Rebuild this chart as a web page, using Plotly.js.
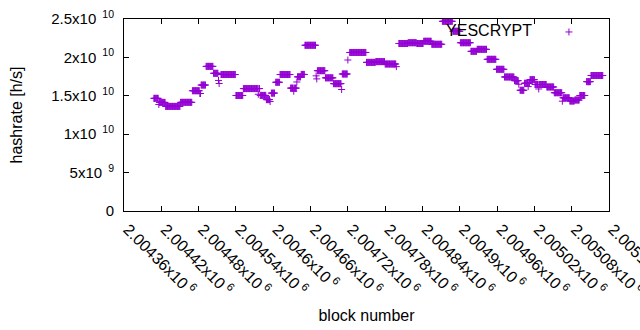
<!DOCTYPE html>
<html><head><meta charset="utf-8">
<script src="https://cdn.plot.ly/plotly-3.0.1.min.js"></script>
<style>html,body{margin:0;padding:0;background:#fff}</style>
</head><body><div id="chart" style="width:640px;height:330px"></div>
<script>
// Runs of consecutive blocks sharing one hashrate value, in units of 1e10 h/s
const runStart = [2004408,2004416,2004417,2004427,2004451,2004470,2004482,2004484,2004492,2004504,2004512,2004513,2004516,2004540,2004552,2004576,2004577,2004579,2004589,2004595,2004597,2004604,2004611,2004628,2004633,2004634,2004638,2004639,2004645,2004651,2004669,2004670,2004671,2004684,2004697,2004710,2004711,2004720,2004723,2004750,2004765,2004780,2004798,2004802,2004817,2004831,2004842,2004855,2004872,2004889,2004901,2004918,2004928,2004944,2004959,2004972,2004988,2004995,2004997,2005004,2005010,2005011,2005013,2005021,2005027,2005028,2005040,2005052,2005065,2005066,2005077,2005085,2005093,2005104,2005111];
const runEnd = [2004415,2004416,2004426,2004450,2004469,2004481,2004483,2004491,2004503,2004511,2004512,2004513,2004539,2004551,2004575,2004576,2004578,2004588,2004594,2004595,2004602,2004610,2004627,2004632,2004633,2004637,2004638,2004644,2004650,2004668,2004669,2004670,2004683,2004696,2004709,2004710,2004719,2004720,2004749,2004764,2004779,2004797,2004798,2004816,2004830,2004841,2004854,2004871,2004888,2004900,2004917,2004927,2004943,2004958,2004971,2004987,2004994,2004995,2005003,2005009,2005010,2005012,2005020,2005026,2005027,2005039,2005051,2005064,2005065,2005076,2005084,2005092,2005101,2005110,2005130];
const runHashrate = [1.467,1.387,1.414,1.362,1.415,1.566,1.53,1.64,1.883,1.793,1.70,1.66,1.777,1.504,1.594,1.52,1.594,1.505,1.45,1.425,1.535,1.676,1.777,1.60,1.56,1.60,1.68,1.747,1.778,2.158,1.76,1.72,1.827,1.734,1.658,1.582,1.784,1.966,2.064,1.935,1.945,1.914,1.88,2.181,2.191,2.181,2.21,2.171,2.47,2.34,2.191,2.079,2.105,1.975,1.845,1.745,1.697,1.65,1.572,1.663,1.62,1.663,1.71,1.647,1.589,1.647,1.615,1.54,1.43,1.474,1.432,1.445,1.504,1.684,1.764];
const hashUnit = 1e10;

const xTickVals = [2004360,2004420,2004480,2004540,2004600,2004660,2004720,2004780,2004840,2004900,2004960,2005020,2005080,2005140];
const xTickText = ['2.00436','2.00442','2.00448','2.00454','2.0046','2.00466','2.00472','2.00478','2.00484','2.0049','2.00496','2.00502','2.00508','2.00514'].map(s => s + 'x10\u2009<sup>6</sup>');
const yTickVals = [0,5e9,1e10,1.5e10,2e10,2.5e10];
const yTickText = ['0','5x10\u2009\u2009<sup>9</sup>','1x10\u2009\u2009<sup>10</sup>','1.5x10\u2009\u2009<sup>10</sup>','2x10\u2009\u2009<sup>10</sup>','2.5x10\u2009\u2009<sup>10</sup>'];

const xs = [], ys = [];
for (let i = 0; i < runStart.length; i++) {
  for (let b = runStart[i]; b <= runEnd[i]; b++) { xs.push(b); ys.push(runHashrate[i] * hashUnit); }
}

const FONT = 'Liberation Sans, Arial, sans-serif';
const trace = {
  type: 'scatter', mode: 'markers', x: xs, y: ys, name: ' ',
  marker: {symbol: 'cross-thin', size: 5, color: '#9400D3', line: {color: '#9400D3', width: 1}}
};
const axisCommon = {
  showline: true, linecolor: '#000', linewidth: 1, mirror: 'ticks',
  ticks: 'inside', ticklen: 5, tickcolor: '#000', tickwidth: 1,
  showgrid: false, zeroline: false, tickmode: 'array', ticklabeloverflow: 'allow'
};
const layout = {
  width: 640, height: 330,
  margin: {l: 124.4, r: 30.7, t: 19, b: 119},
  paper_bgcolor: '#fff', plot_bgcolor: '#fff',
  font: {family: FONT, size: 15, color: '#000'},
  xaxis: Object.assign({}, axisCommon, {
    range: [2004360, 2005140], tickvals: xTickVals, ticktext: xTickText, tickangle: 45,
    ticklabelstandoff: 2, ticklabelshift: 4,
    tickfont: {family: FONT, size: 16, color: '#000'},
    title: {text: 'block number', font: {family: FONT, size: 16, color: '#000'}, standoff: 12}
  }),
  yaxis: Object.assign({}, axisCommon, {
    range: [0, 2.5e10], tickvals: yTickVals, ticktext: yTickText, ticklabelstandoff: 6,
    tickfont: {family: FONT, size: 15, color: '#000'},
    title: {text: 'hashrate [h/s]', font: {family: FONT, size: 16, color: '#000'}, standoff: 24}
  }),
  showlegend: true,
  legend: {
    x: 0.66, xanchor: 'left', y: 0.932, yanchor: 'middle',
    bgcolor: 'rgba(0,0,0,0)', borderwidth: 0,
    title: {text: 'YESCRYPT\u00a0\u00a0', side: 'left', font: {family: FONT, size: 16, color: '#000'}},
    font: {family: FONT, size: 16, color: '#000'}
  }
};
Plotly.newPlot('chart', [trace], layout, {displayModeBar: false, staticPlot: true});
</script></body></html>
